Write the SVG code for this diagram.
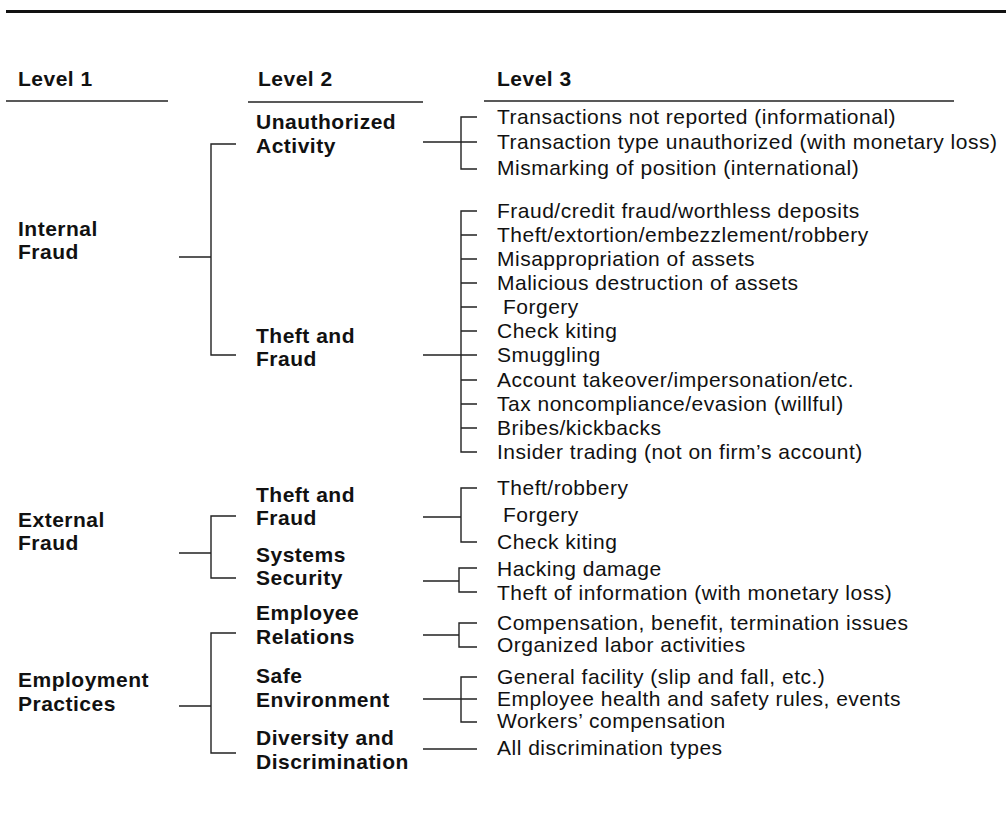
<svg xmlns="http://www.w3.org/2000/svg" width="1006" height="818" viewBox="0 0 1006 818">
  <style>
    text { font-family: "Liberation Sans", Arial, Helvetica, sans-serif; font-size: 21px; fill: #111; letter-spacing: 0.5px; }
    .b { font-weight: bold; }
    .ln { fill: none; stroke: #222; stroke-width: 1.4; }
  </style>
  <rect width="1006" height="818" fill="#fff"/>

  <!-- top rule and column headings -->
  <line x1="6" y1="11.5" x2="1006" y2="11.5" stroke="#111" stroke-width="3"/>
  <g id="headers">
    <text class="b" x="18" y="86">Level 1</text>
    <text class="b" x="258" y="86">Level 2</text>
    <text class="b" x="497" y="86">Level 3</text>
    <line class="ln" x1="6" y1="101" x2="168" y2="101"/>
    <line class="ln" x1="248" y1="102" x2="423" y2="102"/>
    <line class="ln" x1="484" y1="101" x2="954" y2="101"/>
  </g>

  <!-- Level 1 -->
  <g id="l1-internal"><text class="b" x="18" y="236">Internal</text><text class="b" x="18" y="259">Fraud</text></g>
  <g id="l1-external"><text class="b" x="18" y="527">External</text><text class="b" x="18" y="550">Fraud</text></g>
  <g id="l1-employment"><text class="b" x="18" y="687">Employment</text><text class="b" x="18" y="711">Practices</text></g>

  <!-- Level 2 -->
  <g id="l2-unauthorized"><text class="b" x="256" y="129">Unauthorized</text><text class="b" x="256" y="153">Activity</text></g>
  <g id="l2-theft-int"><text class="b" x="256" y="343">Theft and</text><text class="b" x="256" y="366">Fraud</text></g>
  <g id="l2-theft-ext"><text class="b" x="256" y="502">Theft and</text><text class="b" x="256" y="525">Fraud</text></g>
  <g id="l2-systems"><text class="b" x="256" y="562">Systems</text><text class="b" x="256" y="585">Security</text></g>
  <g id="l2-relations"><text class="b" x="256" y="620">Employee</text><text class="b" x="256" y="644">Relations</text></g>
  <g id="l2-safe"><text class="b" x="256" y="683">Safe</text><text class="b" x="256" y="707">Environment</text></g>
  <g id="l2-diversity"><text class="b" x="256" y="745">Diversity and</text><text class="b" x="256" y="769">Discrimination</text></g>

  <!-- Level 3 -->
  <g id="l3-unauthorized">
    <text x="497" y="124">Transactions not reported (informational)</text>
    <text x="497" y="149">Transaction type unauthorized (with monetary loss)</text>
    <text x="497" y="175">Mismarking of position (international)</text>
  </g>
  <g id="l3-theft-int">
    <text x="497" y="218">Fraud/credit fraud/worthless deposits</text>
    <text x="497" y="242">Theft/extortion/embezzlement/robbery</text>
    <text x="497" y="266">Misappropriation of assets</text>
    <text x="497" y="290">Malicious destruction of assets</text>
    <text x="503" y="314">Forgery</text>
    <text x="497" y="338">Check kiting</text>
    <text x="497" y="362">Smuggling</text>
    <text x="497" y="387">Account takeover/impersonation/etc.</text>
    <text x="497" y="411">Tax noncompliance/evasion (willful)</text>
    <text x="497" y="435">Bribes/kickbacks</text>
    <text x="497" y="459">Insider trading (not on firm’s account)</text>
  </g>
  <g id="l3-theft-ext">
    <text x="497" y="495">Theft/robbery</text>
    <text x="503" y="522">Forgery</text>
    <text x="497" y="549">Check kiting</text>
  </g>
  <g id="l3-systems">
    <text x="497" y="576">Hacking damage</text>
    <text x="497" y="600">Theft of information (with monetary loss)</text>
  </g>
  <g id="l3-relations">
    <text x="497" y="630">Compensation, benefit, termination issues</text>
    <text x="497" y="652">Organized labor activities</text>
  </g>
  <g id="l3-safe">
    <text x="497" y="684">General facility (slip and fall, etc.)</text>
    <text x="497" y="706">Employee health and safety rules, events</text>
    <text x="497" y="728">Workers’ compensation</text>
  </g>
  <g id="l3-diversity">
    <text x="497" y="755">All discrimination types</text>
  </g>

  <!-- connectors -->
  <g id="connectors" class="ln">
    <!-- Level 1 to Level 2 -->
    <path class="ln" d="M179 257H211M236 144H211V355H236"/>
    <path class="ln" d="M179 553H211M236 516H211V578H236"/>
    <path class="ln" d="M179 706H211M236 633H211V753H236"/>
    <!-- Level 2 to Level 3 -->
    <path class="ln" d="M423 142H477M477 117H461V169H477"/>
    <path class="ln" d="M423 355H477M477 211H461V452H477M461 235H477M461 259H477M461 283H477M461 307H477M461 331H477M461 380H477M461 404H477M461 428H477"/>
    <path class="ln" d="M423 517H461M477 488H461V542H477"/>
    <path class="ln" d="M423 581H459M477 568H459V592H477"/>
    <path class="ln" d="M423 635H459M477 623H459V647H477"/>
    <path class="ln" d="M423 699H477M477 677H461V722H477"/>
    <path class="ln" d="M423 749H477"/>
  </g>
</svg>
